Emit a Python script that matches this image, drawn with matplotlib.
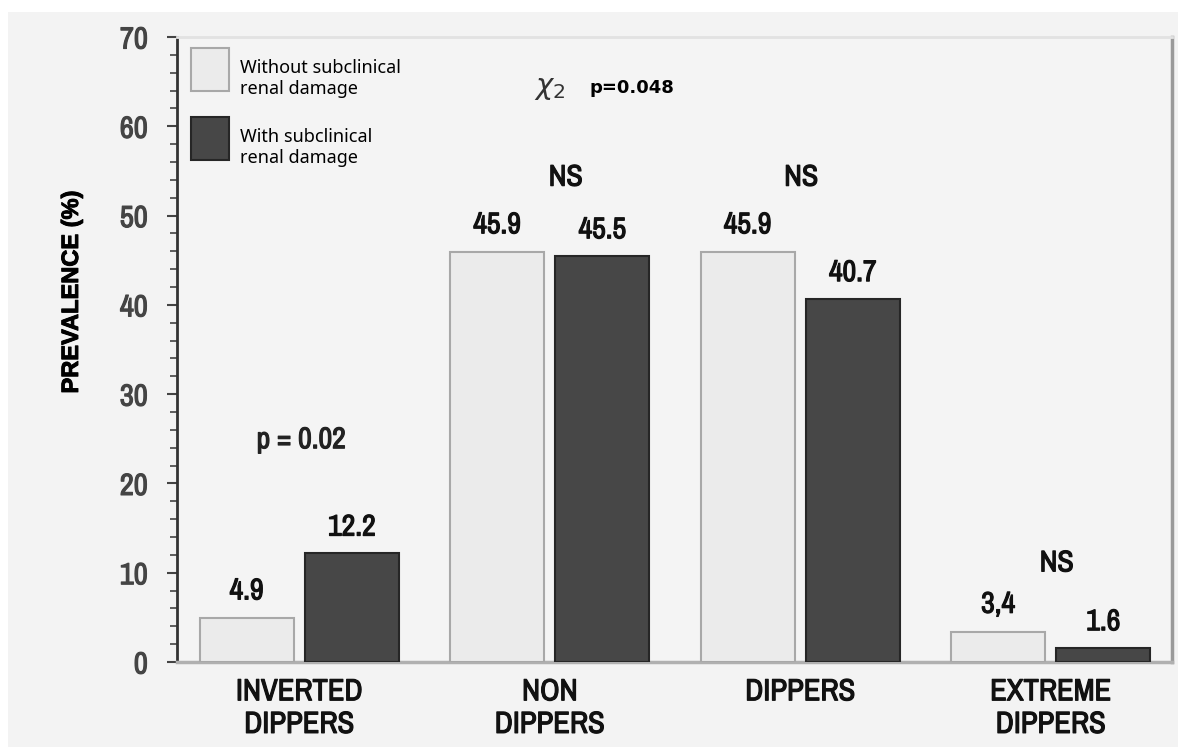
import numpy as np
import matplotlib
matplotlib.use("Agg")
import matplotlib.pyplot as plt
from matplotlib import font_manager as fm
from matplotlib import patheffects as pe
from matplotlib.patches import Rectangle
from matplotlib.ticker import MultipleLocator
from matplotlib.transforms import Affine2D

# data
categories = ["INVERTED\nDIPPERS", "NON\nDIPPERS", "DIPPERS", "EXTREME\nDIPPERS"]
without_damage = [4.9, 45.9, 45.9, 3.4]
with_damage = [12.2, 45.5, 40.7, 1.6]
without_labels = ["4.9", "45.9", "45.9", "3,4"]
with_labels = ["12.2", "45.5", "40.7", "1.6"]
series_names = ["Without subclinical\nrenal damage", "With subclinical\nrenal damage"]

# narrow face for the Arial Narrow look, bold faked with a stroke
narrow_kw = {"family": ["Liberation Sans", "DejaVu Sans"]}
fake_bold = False
narrow_names = sorted({f.name for f in fm.fontManager.ttflist
                       if "Narrow" in f.name or "Condensed" in f.name})
if narrow_names:
    narrow_kw = {"family": [narrow_names[0], "DejaVu Sans"]}
    fake_bold = True


def thick(color, lw=0.85):
    if fake_bold:
        return [pe.withStroke(linewidth=lw, foreground=color)]
    return []


fig = plt.figure(figsize=(11.78, 7.47), dpi=100)
fig.patch.set_facecolor("white")
# grey panel behind the chart
fig.patches.append(Rectangle((8 / 1178, 0), 1, 1 - 12 / 747, transform=fig.transFigure,
                             facecolor="#f3f3f3", edgecolor="none", zorder=-10))

ax = fig.add_axes([177 / 1178, 85 / 747, 995 / 1178, 625 / 747])
ax.set_facecolor("#f4f4f4")

x = np.arange(len(categories))
w = 0.375
off = 0.21
b1 = ax.bar(x - off, without_damage, w, color="#ebebeb", edgecolor="#a8a8a8", linewidth=1.5,
            label=series_names[0], zorder=3)
b2 = ax.bar(x + off, with_damage, w, color="#474747", edgecolor="#262626", linewidth=1.5,
            label=series_names[1], zorder=3)

for rect, lab in zip(b1, without_labels):
    ax.annotate(lab, (rect.get_x() + rect.get_width() / 2, rect.get_height()),
                xytext=(0, 10), textcoords="offset points", ha="center", va="bottom",
                fontsize=21.5, fontweight="bold", color="#111111",
                path_effects=thick("#111111"), **narrow_kw)
for rect, lab in zip(b2, with_labels):
    ax.annotate(lab, (rect.get_x() + rect.get_width() / 2, rect.get_height()),
                xytext=(0, 9), textcoords="offset points", ha="center", va="bottom",
                fontsize=21.5, fontweight="bold", color="#111111",
                path_effects=thick("#111111"), **narrow_kw)

# significance notes
for xs, ys in [(1.064, 54.3), (2.004, 54.3), (3.024, 11.1)]:
    ax.text(xs, ys, "NS", ha="center", va="center", fontsize=21.5, fontweight="bold",
            color="#111111", path_effects=thick("#111111"), **narrow_kw)
ax.text(0.008, 24.9, "p = 0.02", ha="center", va="center", fontsize=21.5, fontweight="bold",
        color="#222222", path_effects=thick("#222222"), **narrow_kw)
ax.text(0.936, 64.3, r"$\chi_{2}$", ha="left", va="center", fontsize=21, color="#333333")
ax.text(1.16, 64.3, "p=0.048", ha="left", va="center", fontsize=13, fontweight="bold",
        family="DejaVu Sans")

ax.set_xlim(-0.488, 3.484)
ax.set_ylim(0, 70)
ax.yaxis.set_major_locator(MultipleLocator(10))
ax.yaxis.set_minor_locator(MultipleLocator(2))
ax.tick_params(axis="y", which="major", length=7, width=1.5, color="#444444", pad=14)
ax.tick_params(axis="y", which="minor", length=5, width=1.2, color="#444444")
ax.tick_params(axis="x", length=0, pad=11)
ax.set_xticks(x)
ax.set_xticklabels(categories, fontsize=22, fontweight="bold", color="#111111",
                   linespacing=1.2, **narrow_kw)
for t in ax.get_xticklabels():
    t.set_path_effects(thick("#111111"))
for t in ax.get_yticklabels():
    t.set_fontsize(22)
    t.set_fontweight("bold")
    t.set_family(narrow_kw["family"])
    t.set_color("#444444")
    t.set_path_effects(thick("#444444"))

ylab = ax.set_ylabel("PREVALENCE (%)", fontsize=17, fontweight=700,
                     family=["Liberation Sans", "DejaVu Sans"])
ylab.set_path_effects([pe.withStroke(linewidth=0.7, foreground="black")])
ax.yaxis.set_label_coords(-0.0945, 0.592)

ax.spines["left"].set_color("#333333")
ax.spines["left"].set_linewidth(2)
ax.spines["bottom"].set_color("#b0b0b0")
ax.spines["bottom"].set_linewidth(2.5)
ax.spines["right"].set_color("#9a9a9a")
ax.spines["right"].set_linewidth(2.5)
ax.spines["top"].set_color("#e2e2e2")
ax.spines["top"].set_linewidth(2)

leg = ax.legend(loc="upper left", bbox_to_anchor=(0.003, 1.0), frameon=False,
                prop={"family": "Noto Sans", "size": 13}, handlelength=2.1, handleheight=3.3,
                labelspacing=1.45, handletextpad=0.6, borderaxespad=0.3, borderpad=0.3)
# the reference puts the first text line near the middle of the swatch
for t in leg.get_texts():
    t.set_transform(t.get_transform() + Affine2D().translate(0, -11))

fig.savefig("out.png", dpi=100)
